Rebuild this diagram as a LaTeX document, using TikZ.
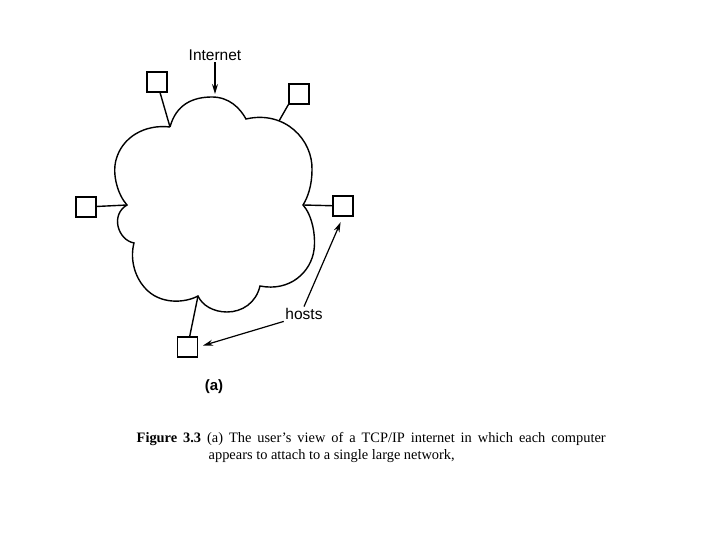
\documentclass[tikz,border=0pt]{standalone}
\usepackage{fontspec}
\setmainfont{Liberation Serif}
\setsansfont{Liberation Sans}
\usetikzlibrary{arrows.meta, positioning}

\begin{document}
\begin{tikzpicture}[x=1pt, y=-1pt, line width=1.4pt,
    host/.style={draw, fill=white, minimum size=20pt, inner sep=0pt},
    lbl/.style={font=\sffamily\fontsize{15.5}{18}\selectfont, inner sep=1pt},
    tip/.style={line width=1.2pt, -{Stealth[length=10pt, width=6pt]}},
    capline/.style={anchor=base west, inner sep=0pt, font=\fontsize{14.4}{17}\selectfont}]
    \useasboundingbox (0,0) rectangle (720,540);

    % Cloud cusps
    \coordinate (c1) at (170,127);
    \coordinate (c2) at (246,119);
    \coordinate (c3) at (303,205);
    \coordinate (c4) at (260,286);
    \coordinate (c5) at (198,296);
    \coordinate (c6) at (134,243);
    \coordinate (c7) at (127,205);
    \coordinate (a2) at (279,121);
    \coordinate (top) at (215,94);

    % Cloud
    \draw (c1) .. controls (176,105) and (192,97) .. (212,97)
               .. controls (229,97) and (240,108) .. (c2)
               .. controls (285,110) and (313,140) .. (312,170)
               .. controls (312,185) and (308,197) .. (c3)
               .. controls (312,215) and (316,235) .. (314,250)
               .. controls (311,272) and (290,292) .. (c4)
               .. controls (256,303) and (242,312) .. (227,312)
               .. controls (213,312) and (202,305) .. (c5)
               .. controls (185,303) and (160,305) .. (145,288)
               .. controls (134,276) and (130,258) .. (c6)
               .. controls (118,240) and (110,215) .. (c7)
               .. controls (118,195) and (112,175) .. (116,160)
               .. controls (122,137) and (145,124) .. (c1);

    % Hosts
    \node[host] (h1) at (157,82) {};
    \node[host] (h2) at (299,94) {};
    \node[host] (h3) at (86,207) {};
    \node[host] (h4) at (343,206) {};
    \node[host] (h5) at (187.5,347) {};

    % Links to the cloud
    \draw (h1) -- (c1);
    \draw (h2.south west) -- (a2);
    \draw (h3) -- (c7);
    \draw (h4) -- (c3);
    \draw (h5) -- (c5);

    % Labels
    \node[lbl] (inet) at (215,55) {Internet};
    \draw[tip] (inet) -- (top);
    \node[lbl] (hosts) at (304,314) {hosts};
    \draw[tip, shorten >=5pt] (hosts.south west) -- (h5.east);
    \draw[tip, shorten >=6pt] (hosts.north) -- (h4.south);
    \node[font=\sffamily\bfseries\fontsize{15}{18}\selectfont] (sub) at (214,387) {(a)};

    % Caption
    \node[capline] (cap1) at (136,442)
        {\makebox[469pt][s]{\textbf{Figure 3.3} (a) The user's view of a TCP/IP internet in which each computer}};
    \node[capline] (cap2) at (208,459) {appears to attach to a single large network,};

\end{tikzpicture}
\end{document}
